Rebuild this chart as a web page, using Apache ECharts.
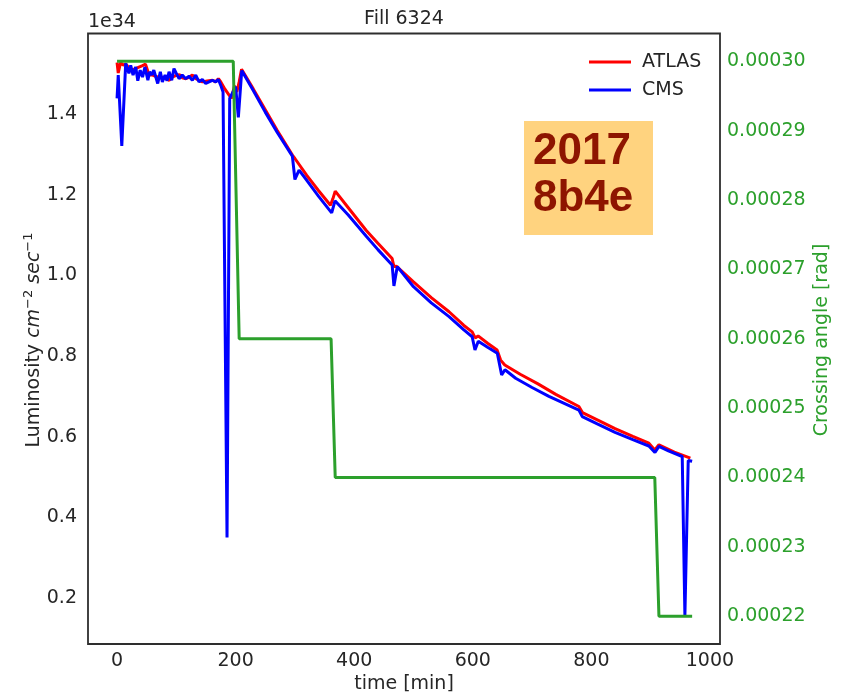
<!DOCTYPE html>
<html><head><meta charset="utf-8">
<script src="https://cdn.jsdelivr.net/npm/echarts@6/dist/echarts.min.js"></script>
<style>html,body{margin:0;padding:0;background:#fff}#c{width:845px;height:694px}</style>
</head><body><div id="c"></div>
<script>
// ---- data (time in min, luminosity in units of 1e34 cm^-2 s^-1, angle in rad) ----
const atlasT = [0,2,6,10,15,20,26,34,42,48,54,60,65,72,76,82,88,93,100,105,110,116,122,127,133,138,144,147,152,161,166,171,175,182,189,193,198,202,206,210,230,250,270,296,300,320,340,360,364,368,390,420,440,464,467,471,500,530,560,585,599,604,609,625,641,647,654,680,710,740,779,785,810,840,870,897,907,914,940,967];
const atlasL = [1.528,1.502,1.528,1.522,1.524,1.515,1.510,1.515,1.520,1.524,1.497,1.497,1.494,1.490,1.492,1.488,1.484,1.492,1.496,1.498,1.490,1.488,1.492,1.497,1.488,1.484,1.480,1.476,1.482,1.484,1.480,1.488,1.480,1.462,1.447,1.439,1.470,1.455,1.480,1.511,1.462,1.411,1.360,1.298,1.290,1.248,1.210,1.174,1.190,1.209,1.168,1.112,1.080,1.042,1.022,1.023,0.984,0.945,0.910,0.876,0.860,0.845,0.850,0.832,0.815,0.790,0.778,0.755,0.731,0.705,0.675,0.660,0.642,0.620,0.601,0.584,0.567,0.580,0.562,0.547];

const cmsT = [0,2,8,14.6,20,23,27,31.5,35,39,43,47,52,55,58.5,62,68.6,73,76.4,81,84.3,87.7,92.2,96,100,104.6,110,115.8,121.4,127,132.7,138.3,143.8,149.6,155,160.8,166.4,170.9,174.8,178.8,185.5,190,192,200,204.6,210.3,230,250,270,295.7,300,307,320,340,362,367.6,390,420,440,464,467,472.7,500,530,560,585,599,603.7,609.3,625,641.4,648.7,654.3,672.3,700,728.5,779,784.7,810,840,870,897,907.3,914,930,953.3,957.8,963.4,970];
const cmsL = [1.439,1.497,1.321,1.526,1.501,1.521,1.497,1.517,1.483,1.509,1.492,1.517,1.484,1.505,1.497,1.509,1.476,1.505,1.480,1.497,1.483,1.505,1.484,1.513,1.501,1.488,1.497,1.488,1.494,1.484,1.497,1.480,1.486,1.476,1.480,1.484,1.480,1.486,1.472,1.455,0.350,1.439,1.443,1.468,1.392,1.508,1.458,1.405,1.355,1.296,1.238,1.261,1.236,1.196,1.155,1.185,1.150,1.098,1.064,1.026,0.974,1.022,0.972,0.932,0.898,0.865,0.848,0.815,0.837,0.822,0.807,0.753,0.766,0.745,0.722,0.700,0.666,0.650,0.632,0.611,0.593,0.577,0.561,0.576,0.565,0.551,0.156,0.541,0.539];

const angleT = [0,196,206,361,368,907,914,970];
const angleV = [0.00030,0.00030,0.00026,0.00026,0.00024,0.00024,0.00022,0.00022];

const xTicks = [0,200,400,600,800,1000];
const lumiTicks = [0.2,0.4,0.6,0.8,1.0,1.2,1.4];
const angleTicks = [0.00022,0.00023,0.00024,0.00025,0.00026,0.00027,0.00028,0.00029,0.00030];

// ---- chart ----
const FONT = 'DejaVu Sans';
const TXT = '#262626';
const GREEN = '#2ca02c';
const zip = (a, b) => a.map((v, i) => [v, b[i]]);
const chart = echarts.init(document.getElementById('c'), null, {renderer: 'canvas'});

chart.setOption({
  animation: false,
  backgroundColor: '#fff',
  grid: {left: 88, right: 125, top: 33.5, bottom: 50, show: true, borderColor: '#2e2e2e', borderWidth: 1.8, backgroundColor: 'transparent'},
  legend: {
    orient: 'vertical', left: 584, top: 47, itemWidth: 42, itemHeight: 3, itemGap: 8, icon: 'rect',
    data: ['ATLAS', 'CMS'],
    textStyle: {fontSize: 19, fontFamily: FONT, color: TXT, padding: [0, 0, 0, 6], lineHeight: 20}
  },
  xAxis: {
    type: 'value', min: -49, max: 1017,
    axisLine: {show: false}, axisTick: {show: false}, splitLine: {show: false},
    axisLabel: {customValues: xTicks, formatter: v => String(v), fontSize: 19, fontFamily: FONT, color: TXT, margin: 8}
  },
  yAxis: [
    {
      type: 'value', min: 0.086, max: 1.6, position: 'left',
      axisLine: {show: false}, axisTick: {show: false}, splitLine: {show: false},
      axisLabel: {customValues: lumiTicks, formatter: v => v.toFixed(1), fontSize: 19, fontFamily: FONT, color: TXT, margin: 11, padding: [3, 0, 0, 0]}
    },
    {
      type: 'value', min: 0.000216, max: 0.000304, position: 'right',
      axisLine: {show: false}, axisTick: {show: false}, splitLine: {show: false},
      axisLabel: {customValues: angleTicks, formatter: v => v.toFixed(5), fontSize: 19, fontFamily: FONT, color: GREEN, margin: 7, padding: [3, 0, 0, 0]}
    }
  ],
  series: [
    {name: 'ATLAS', type: 'line', yAxisIndex: 0, data: zip(atlasT, atlasL), symbol: 'none', color: '#ff0000', lineStyle: {width: 3}, z: 2},
    {name: 'CMS', type: 'line', yAxisIndex: 0, data: zip(cmsT, cmsL), symbol: 'none', color: '#0000ff', lineStyle: {width: 3}, z: 3},
    {name: 'angle', type: 'line', yAxisIndex: 1, data: zip(angleT, angleV), symbol: 'none', color: GREEN, lineStyle: {width: 3}, z: 4}
  ],
  graphic: [
    {type: 'text', x: 404, y: 19, style: {text: 'Fill 6324', font: '19px "DejaVu Sans"', fill: TXT, align: 'center', verticalAlign: 'middle'}},
    {type: 'text', x: 88, y: 22, style: {text: '1e34', font: '19px "DejaVu Sans"', fill: TXT, align: 'left', verticalAlign: 'middle'}},
    {type: 'text', x: 404, y: 684, style: {text: 'time [min]', font: '19px "DejaVu Sans"', fill: TXT, align: 'center', verticalAlign: 'middle'}},
    {type: 'text', x: 34, y: 340, rotation: Math.PI / 2, style: {
      text: 'Luminosity {i|cm}{s|−2} {i|sec}{s|−1}',
      font: '19px "DejaVu Sans"', fill: TXT, align: 'center', verticalAlign: 'middle',
      rich: {
        i: {fontStyle: 'italic', fontSize: 19, fontFamily: FONT, fill: TXT, lineHeight: 24},
        s: {fontSize: 13, fontFamily: FONT, fill: TXT, verticalAlign: 'top', lineHeight: 14}
      }
    }},
    {type: 'text', x: 822, y: 340, rotation: Math.PI / 2, style: {text: 'Crossing angle [rad]', font: '19px "DejaVu Sans"', fill: GREEN, align: 'center', verticalAlign: 'middle'}},
    {type: 'rect', shape: {x: 524, y: 121, width: 129, height: 114}, style: {fill: '#FFD37F'}, z: 10},
    {type: 'text', x: 533, y: 128, z: 11, style: {text: '2017\n8b4e', font: 'bold 44px "Liberation Sans"', fill: '#8E1500', align: 'left', verticalAlign: 'top', lineHeight: 47}}
  ]
});
</script>
</body></html>
